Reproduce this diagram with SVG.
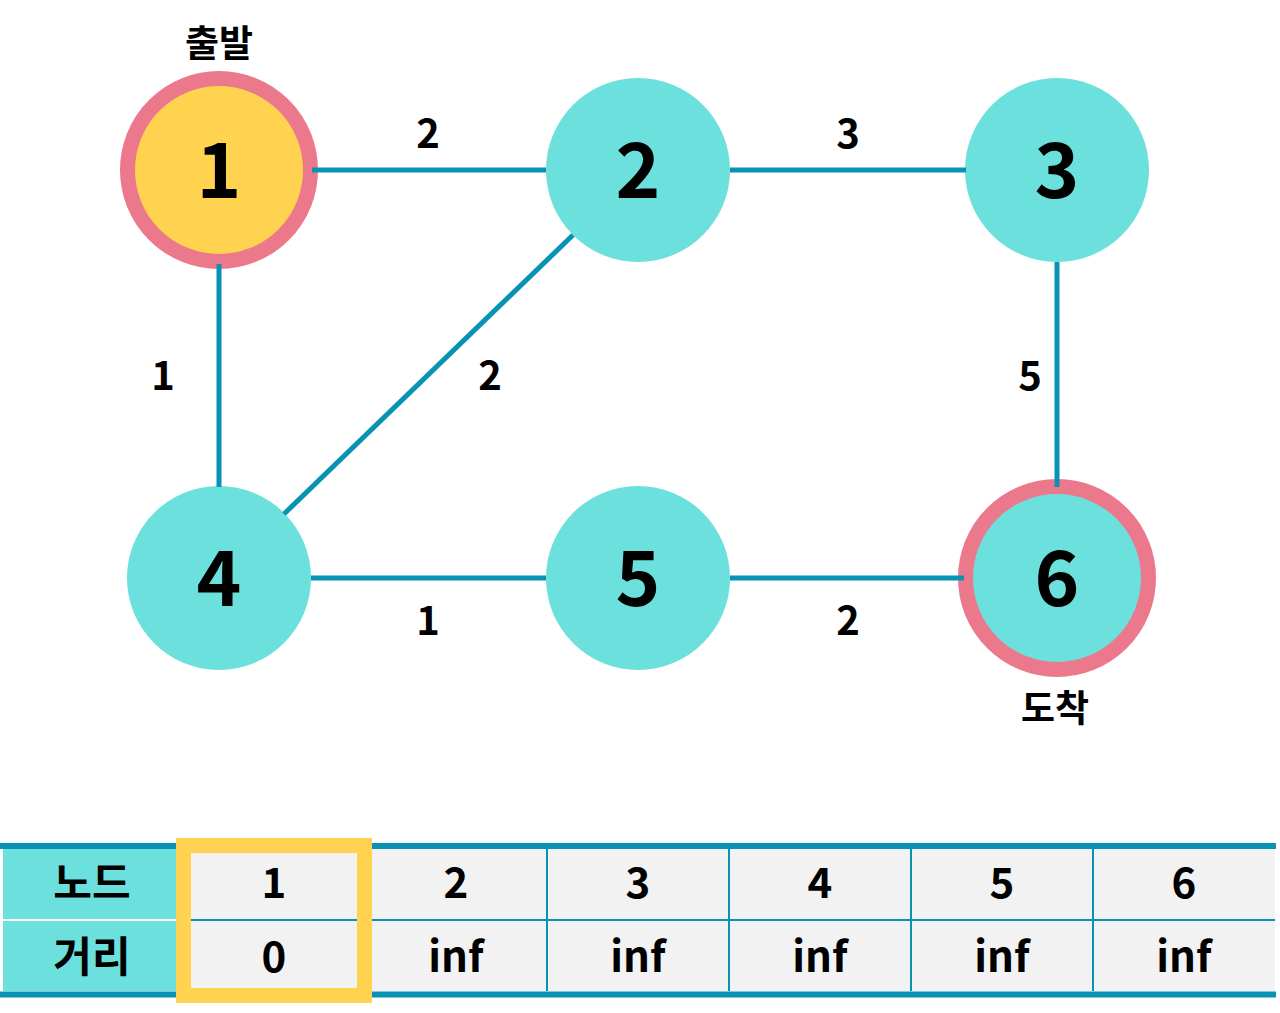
<svg xmlns="http://www.w3.org/2000/svg" width="1280" height="1013" viewBox="0 0 1280 1013">
<style>
.edge{stroke:#0892b4;stroke-width:5;fill:none}
.node{fill:#6be0dc}
.start{fill:#ffd250;stroke:#ec788c;stroke-width:15}
.end{fill:#6be0dc;stroke:#ec788c;stroke-width:15}
text{font-family:"Noto Sans CJK KR","Noto Sans",sans-serif;font-weight:bold;fill:#000;text-anchor:middle}
.num{font-size:76px}
.el{font-size:40px}
.kr{font-size:37px}
.tb{font-size:42px}
.cell{fill:#f2f2f2}
.grid{stroke:#0892b4;stroke-width:2}
.thick{stroke:#0892b4;stroke-width:6}
</style>
<rect width="1280" height="1013" fill="#fff"/>
<g id="node1">
<circle class="start" cx="219" cy="170" r="91.5"/>
<text class="num" x="219" y="198">1</text>
<text class="kr" x="219" y="57">출발</text>
</g>
<g id="node2">
<circle class="node" cx="638" cy="170" r="92"/>
<text class="num" x="638" y="198">2</text>
</g>
<g id="node3">
<circle class="node" cx="1057" cy="170" r="92"/>
<text class="num" x="1057" y="198">3</text>
</g>
<g id="node4">
<circle class="node" cx="219" cy="578" r="92"/>
<text class="num" x="219" y="606">4</text>
</g>
<g id="node5">
<circle class="node" cx="638" cy="578" r="92"/>
<text class="num" x="638" y="606">5</text>
</g>
<g id="node6">
<circle class="end" cx="1057" cy="578" r="91.5"/>
<text class="num" x="1057" y="606">6</text>
<text class="kr" x="1055" y="722">도착</text>
</g>
<g id="connectors">
<line class="edge" x1="312" y1="170" x2="546" y2="170"/>
<line class="edge" x1="730" y1="170" x2="966" y2="170"/>
<line class="edge" x1="219" y1="264" x2="219" y2="487"/>
<line class="edge" x1="1057" y1="262" x2="1057" y2="487"/>
<line class="edge" x1="573" y1="235" x2="284" y2="514"/>
<line class="edge" x1="311" y1="578" x2="546" y2="578"/>
<line class="edge" x1="730" y1="578" x2="964" y2="578"/>
<text class="el" x="428" y="148">2</text>
<text class="el" x="848" y="148">3</text>
<text class="el" x="163" y="390">1</text>
<text class="el" x="490" y="390">2</text>
<text class="el" x="1030" y="390">5</text>
<text class="el" x="428" y="635">1</text>
<text class="el" x="848" y="635">2</text>
</g>
<g id="table">
<rect x="3" y="849" width="173" height="142" fill="#6be0dc"/>
<line x1="3" y1="920" x2="183" y2="920" stroke="#fff" stroke-width="2"/>
<rect class="cell" x="183" y="849" width="1092" height="142"/>
<line class="grid" x1="183" y1="920" x2="1275" y2="920"/>
<line class="grid" x1="547" y1="849" x2="547" y2="991"/>
<line class="grid" x1="729" y1="849" x2="729" y2="991"/>
<line class="grid" x1="911" y1="849" x2="911" y2="991"/>
<line class="grid" x1="1093" y1="849" x2="1093" y2="991"/>
<line class="thick" x1="0" y1="846" x2="1276" y2="846"/>
<line class="thick" x1="0" y1="994.5" x2="1276" y2="994.5"/>
<rect x="183.5" y="845.5" width="181" height="150" fill="none" stroke="#ffd250" stroke-width="15"/>
<text class="tb" x="92" y="898">노드</text>
<text class="tb" x="92" y="972">거리</text>
<text class="tb" x="274" y="898">1</text>
<text class="tb" x="456" y="898">2</text>
<text class="tb" x="638" y="898">3</text>
<text class="tb" x="820" y="898">4</text>
<text class="tb" x="1002" y="898">5</text>
<text class="tb" x="1184" y="898">6</text>
<text class="tb" x="274" y="972">0</text>
<text class="tb" x="456" y="972">inf</text>
<text class="tb" x="638" y="972">inf</text>
<text class="tb" x="820" y="972">inf</text>
<text class="tb" x="1002" y="972">inf</text>
<text class="tb" x="1184" y="972">inf</text>
</g>
</svg>
